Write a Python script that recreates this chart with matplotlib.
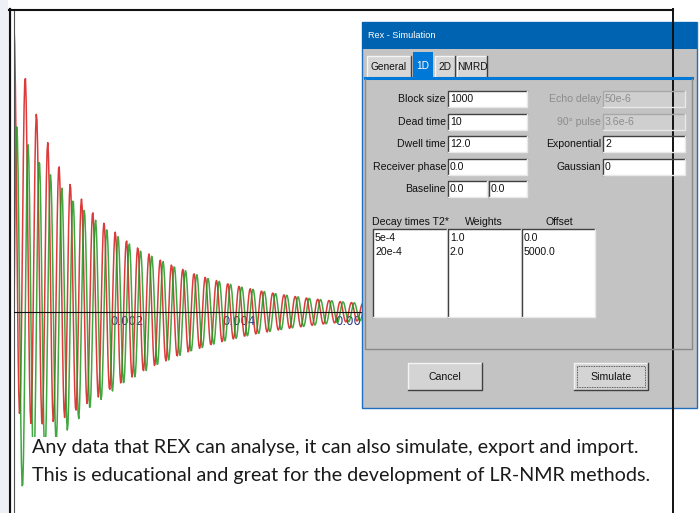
import numpy as np
import matplotlib.pyplot as plt
from matplotlib.patches import Rectangle

# simulation parameters shown in the dialog (they define the plotted FID)
decay_times = [5e-4, 20e-4]
weights = [1.0, 2.0]
offsets = [0.0, 5000.0]
block_size = 1000
dwell_time = 12.0e-6

tick_values = [0.002, 0.004, 0.006]
tick_labels = ["0.002", "0.004", "0.006"]

left_fields = [("Block size", "1000"), ("Dead time", "10"), ("Dwell time", "12.0"),
               ("Receiver phase", "0.0")]
right_fields = [("Echo delay", "50e-6", False), ("90° pulse", "3.6e-6", False),
                ("Exponential", "2", True), ("Gaussian", "0", True)]
tabs = ["General", "1D", "2D", "NMRD"]
list_headers = ["Decay times T2*", "Weights", "Offset"]
list_items = [["5e-4", "20e-4"], ["1.0", "2.0"], ["0.0", "5000.0"]]

caption = ["Any data that REX can analyse, it can also simulate, export and import.",
           "This is educational and great for the development of LR-NMR methods."]

W, H = 699, 513
fig = plt.figure(figsize=(W / 100, H / 100), dpi=100)
fig.patch.set_facecolor("white")

# ---- signal plot ----
t = np.arange(block_size) * dwell_time
real = np.zeros_like(t)
imag = np.zeros_like(t)
for T2, w, f in zip(decay_times, weights, offsets):
    real += w * np.exp(-t / T2) * np.cos(2 * np.pi * f * t)
    imag += w * np.exp(-t / T2) * np.sin(2 * np.pi * f * t)

ax = fig.add_axes([14 / W, 0, (673 - 14) / W, (H - 9) / H])
ax.plot(t, real, color="#d81818", lw=1.1, alpha=0.85)
ax.plot(t, imag, color="#1f981f", lw=1.1, alpha=0.85)
px_per_s = 56250.0
ax.set_xlim(0, (673 - 14) / px_per_s)
ax.set_ylim(-(H - 312) / 95.0, (312 - 9) / 95.0)
ax.spines["top"].set_visible(False)
ax.spines["right"].set_visible(False)
ax.spines["bottom"].set_position("zero")
ax.spines["bottom"].set_color("#111111")
ax.spines["left"].set_color("#505050")
ax.set_yticks([])
ax.set_xticks(tick_values)
ax.set_xticklabels(tick_labels)
ax.tick_params(axis="x", length=0, pad=2, labelsize=8.5, labelcolor="#2c3a8a")
ax.patch.set_alpha(0)

# ---- overlay in pixel coordinates ----
ov = fig.add_axes([0, 0, 1, 1])
ov.set_xlim(0, W)
ov.set_ylim(H, 0)
ov.axis("off")
ov.patch.set_alpha(0)
ov.set_zorder(5)

def rect(x0, y0, x1, y1, fc, ec="none", lw=1.0, **kw):
    ov.add_patch(Rectangle((x0, y0), x1 - x0, y1 - y0, facecolor=fc, edgecolor=ec, lw=lw, **kw))

def sunken(x0, y0, x1, y1, fc="white", dark="#404040"):
    rect(x0, y0, x1, y1, fc)
    ov.plot([x0, x0, x1], [y1, y0, y0], color=dark, lw=1.0)
    ov.plot([x0, x1, x1], [y1, y1, y0], color="#e8e8e8", lw=1.0)

def raised(x0, y0, x1, y1, fc="#d4d4d4"):
    rect(x0, y0, x1, y1, fc)
    ov.plot([x0, x0, x1], [y1, y0, y0], color="#f4f4f4", lw=1.0)
    ov.plot([x0, x1, x1], [y1, y1, y0], color="#404040", lw=1.0)

# slide background strip and frame lines
rect(0, 0, 8, H, "#eef0f7")
ov.plot([9, 673], [9.5, 9.5], color="#111111", lw=1.5)
ov.plot([10, 10], [9, H], color="#111111", lw=1.6)
ov.plot([673, 673], [9, H], color="#111111", lw=1.4)

ui = ["Liberation Sans", "DejaVu Sans"]
fs = 7.6
ink = "#111111"

# dialog
rect(362, 22, 697, 408, "#c3c3c3", ec="#1f6fbf", lw=1.0)
rect(362, 22, 697, 49, "#0063b1")
ov.text(368, 36, "Rex - Simulation", color="white", fontsize=6.6, family=ui, va="center")

tab_x = [(367, 411), (413, 433), (435, 455), (457, 487)]
for name, (x0, x1) in zip(tabs, tab_x):
    if name == "1D":
        rect(x0, 52, x1, 78, "#0078d7")
        ov.text((x0 + x1) / 2, 66, name, color="white", fontsize=7.3, family=ui,
                ha="center", va="center")
    else:
        raised(x0, 56, x1, 78, fc="#d6d6d6")
        ov.text((x0 + x1) / 2, 67, name, color=ink, fontsize=7.3, family=ui,
                ha="center", va="center")
ov.plot([365, 692], [78, 78], color="#0078d7", lw=2.2)
ov.plot([365, 365, 692, 692], [79, 349, 349, 79], color="#8a8a8a", lw=1.0)

rows_y = [99, 122, 144, 167]
for (lab, val), y in zip(left_fields, rows_y):
    ov.text(446, y, lab, fontsize=fs, family=ui, ha="right", va="center", color=ink)
    sunken(448, y - 8, 527, y + 8)
    ov.text(450, y, val, fontsize=fs, family=ui, va="center", color=ink)
for (lab, val, enabled), y in zip(right_fields, rows_y):
    col = ink if enabled else "#8c8c8c"
    ov.text(601, y, lab, fontsize=fs, family=ui, ha="right", va="center", color=col)
    if enabled:
        sunken(603, y - 8, 685, y + 8)
    else:
        sunken(603, y - 8, 685, y + 8, fc="#cfcfcf", dark="#a8a8a8")
    ov.text(605, y, val, fontsize=fs, family=ui, va="center", color=col)

y = 189
ov.text(446, y, "Baseline", fontsize=fs, family=ui, ha="right", va="center", color=ink)
sunken(448, y - 8, 487, y + 8)
ov.text(450, y, "0.0", fontsize=fs, family=ui, va="center", color=ink)
sunken(489, y - 8, 527, y + 8)
ov.text(491, y, "0.0", fontsize=fs, family=ui, va="center", color=ink)

box_x = [(373, 447), (448, 521), (522, 595)]
head_x = [410, 484, 559]
for hdr, hx, (x0, x1), items in zip(list_headers, head_x, box_x, list_items):
    ov.text(hx, 222, hdr, fontsize=fs, family=ui, ha="center", va="center", color=ink)
    sunken(x0, 229, x1, 317)
    for i, it in enumerate(items):
        ov.text(x0 + 2, 238 + 14 * i, it, fontsize=fs, family=ui, va="center", color=ink)

raised(408, 363, 482, 390)
ov.text(445, 377, "Cancel", fontsize=fs, family=ui, ha="center", va="center", color=ink)
raised(574, 363, 648, 390)
rect(577, 366, 645, 387, "none", ec="#333333", lw=0.6, ls=(0, (1, 1)))
ov.text(611, 377, "Simulate", fontsize=fs, family=ui, ha="center", va="center", color=ink)

# caption text box (white, covers the signal and frame behind it)
rect(27, 437, 680, 492, "white")
for i, line in enumerate(caption):
    ov.text(32, 453 + 28 * i, line, fontsize=14.2, family=["Lato", "DejaVu Sans"],
            color="#1a1a1a", va="baseline")

fig.savefig("out.png", dpi=100)
